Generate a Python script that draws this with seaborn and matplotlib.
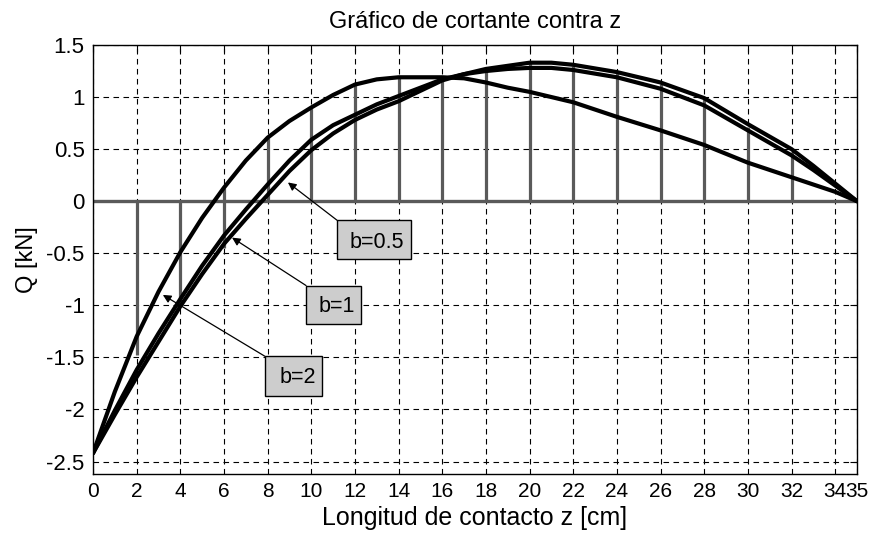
import numpy as np
import pandas as pd
import matplotlib
matplotlib.use("Agg")
import matplotlib.pyplot as plt
import seaborn as sns
from matplotlib.patches import Rectangle

# Shear force Q [kN] along the contact length z [cm] for three b values
z = [0, 1, 2, 3, 4, 5, 6, 7, 8, 9, 10, 11, 12, 13, 14, 15, 16, 17, 18, 19,
     20, 21, 22, 24, 26, 28, 30, 32, 33, 34, 35]
q_b05 = [-2.42, -1.83, -1.30, -0.87, -0.49, -0.16, 0.13, 0.39, 0.61, 0.77,
         0.90, 1.02, 1.12, 1.17, 1.19, 1.19, 1.19, 1.18, 1.14, 1.09,
         1.05, 1.00, 0.95, 0.81, 0.68, 0.54, 0.37, 0.23, 0.16, 0.09, 0.0]
q_b1 = [-2.42, -2.01, -1.62, -1.27, -0.94, -0.62, -0.33, -0.08, 0.16, 0.39,
        0.59, 0.73, 0.83, 0.93, 1.01, 1.09, 1.17, 1.22, 1.25, 1.27,
        1.28, 1.28, 1.26, 1.19, 1.08, 0.92, 0.68, 0.44, 0.30, 0.15, 0.0]
q_b2 = [-2.42, -2.05, -1.69, -1.35, -1.01, -0.70, -0.41, -0.17, 0.06, 0.29,
        0.49, 0.65, 0.78, 0.88, 0.96, 1.06, 1.16, 1.22, 1.27, 1.30,
        1.33, 1.33, 1.31, 1.24, 1.14, 0.99, 0.74, 0.50, 0.34, 0.17, 0.0]
labels = ["b=0.5", "b=1", "b=2"]

# Discrete shear values (stems) every 2 cm
stem_z = [2, 4, 6, 8, 10, 12, 14, 16, 18, 20, 22, 24, 26, 28, 30, 32]
stem_low = [-1.48, -0.98, -0.45, 0, 0, 0, 0, 0, 0, 0, 0, 0, 0, 0, 0, 0]
stem_high = [0, 0, 0.13, 0.61, 0.90, 1.12, 1.19, 1.18, 1.28, 1.33, 1.30,
             1.24, 1.13, 0.98, 0.71, 0.47]

xticks = [0, 2, 4, 6, 8, 10, 12, 14, 16, 18, 20, 22, 24, 26, 28, 30, 32, 34, 35]
yticks = [-2.5, -2, -1.5, -1, -0.5, 0, 0.5, 1, 1.5]

df = pd.DataFrame({
    "z": z * 3,
    "Q": q_b05 + q_b1 + q_b2,
    "b": [labels[0]] * len(z) + [labels[1]] * len(z) + [labels[2]] * len(z),
})

sns.set_style("white")
plt.rcParams["font.family"] = ["Liberation Sans", "DejaVu Sans"]
plt.rcParams["text.color"] = "black"
plt.rcParams["axes.labelcolor"] = "black"

fig = plt.figure(figsize=(8.7, 5.42), dpi=100)
ax = fig.add_axes([93 / 870, 1 - 474 / 542, (857 - 93) / 870, (474 - 45) / 542])

ax.set_xlim(0, 35)
ax.set_ylim(-2.62, 1.5)
ax.set_xticks(xticks)
ax.set_xticklabels([f"{t:g}" for t in xticks])
ax.set_yticks(yticks)
ax.set_yticklabels([f"{t:g}" for t in yticks])

ax.grid(True, color="black", linestyle=(0, (5, 4)), linewidth=0.8, zorder=0)
ax.set_axisbelow(True)

# zero baseline and stems
ax.axhline(0, color="#5a5a5a", linewidth=2.4, zorder=2)
ax.vlines(stem_z, stem_low, stem_high, color="#5a5a5a", linewidth=2.3, zorder=2)

sns.lineplot(data=df, x="z", y="Q", hue="b", palette=["black"] * 3,
             linewidth=3.0, legend=False, ax=ax, zorder=3, sort=False,
             estimator=None)

# annotation boxes: (text, text x, text y, box x0, x1, y0, y1, arrow tip)
notes = [
    ("b=0.5", 13.0, -0.40, 11.18, 14.57, -0.558, -0.183, (8.93, 0.18)),
    ("b=1", 11.15, -1.01, 9.76, 12.28, -1.18, -0.81, (6.37, -0.35)),
    ("b=2", 9.40, -1.69, 7.88, 10.49, -1.87, -1.49, (3.20, -0.90)),
]
for txt, tx, ty, x0, x1, y0, y1, tip in notes:
    ax.add_patch(Rectangle((x0, y0), x1 - x0, y1 - y0, facecolor="#cdcdcd",
                           edgecolor="black", linewidth=1.0, zorder=5))
    ax.text(tx, ty, txt, ha="center", va="center", fontsize=15.5, zorder=6,
            color="black")
    ax.annotate("", xy=tip, xytext=(x0, y1),
                arrowprops=dict(arrowstyle="-|>", color="black", lw=0.9,
                                mutation_scale=12, shrinkA=0, shrinkB=0),
                zorder=6)

for s in ax.spines.values():
    s.set_color("black")
    s.set_linewidth(1.0)
    s.set_visible(True)

ax.tick_params(direction="in", length=5, width=0.8, top=True, right=True,
               labelsize=15, colors="black", pad=6)
ax.tick_params(axis="y", labelsize=16)

ax.set_title("Gráfico de cortante contra z", fontsize=17, pad=12, color="black")
ax.set_xlabel("Longitud de contacto z [cm]", fontsize=18, labelpad=3)
ax.set_ylabel("Q [kN]", fontsize=17, labelpad=6)

fig.savefig("out.png", dpi=100)
